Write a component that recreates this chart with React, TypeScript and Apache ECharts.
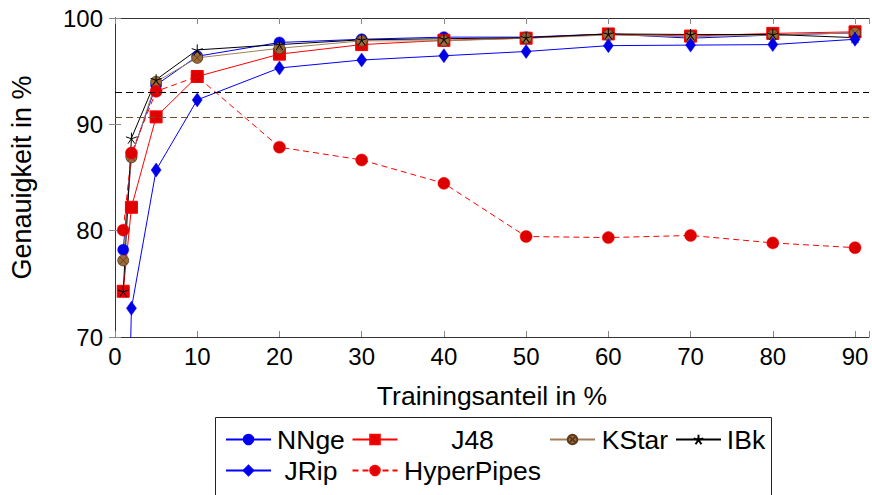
import React, { useEffect, useRef } from "react";
import * as echarts from "echarts";

// Training share in % (x positions)
const xValues = [1, 2, 5, 10, 20, 30, 40, 50, 60, 70, 80, 90];
// Accuracy in % per classifier
const nnge = [78.2, 87.0, 93.7, 96.4, 97.7, 98.0, 98.2, 98.2, 98.5, 98.1, 98.4, 98.6];
const j48 = [74.3, 82.2, 90.7, 94.5, 96.6, 97.5, 97.9, 98.1, 98.5, 98.3, 98.55, 98.7];
const kstar = [77.2, 86.9, 94.0, 96.25, 97.15, 97.85, 97.85, 98.1, 98.4, 98.25, 98.4, 98.6];
const ibk = [74.3, 88.7, 94.2, 97.0, 97.5, 97.95, 98.05, 98.15, 98.5, 98.45, 98.45, 98.15];
const jrip = [40, 72.7, 85.7, 92.3, 95.3, 96.05, 96.45, 96.85, 97.4, 97.45, 97.5, 98.0];
const hyperPipes = [80.05, 87.3, 93.1, 94.5, 87.85, 86.65, 84.45, 79.45, 79.35, 79.55, 78.85, 78.4];
// Reference (dashed) levels
const refBlack = 93.0;
const refBrown = 90.7;
// Axis ticks
const xTicks = [0, 10, 20, 30, 40, 50, 60, 70, 80, 90];
const yTicks = [70, 80, 90, 100];

const FONT = "Liberation Sans, Arial, Helvetica, sans-serif";

const pair = (ys: number[]) => xValues.map((x, i) => [x, ys[i]]);

const STAR =
  "path://M0,-10L0,0M0,0L9.51,-3.09M0,0L5.88,8.09M0,0L-5.88,8.09M0,0L-9.51,-3.09";
const OTIMES =
  "path://M10,0A10,10,0,1,1,-10,0A10,10,0,1,1,10,0ZM-7.07,-7.07L7.07,7.07M-7.07,7.07L7.07,-7.07";

export default function App() {
  const ref = useRef<HTMLDivElement>(null);
  useEffect(() => {
    const chart = echarts.init(ref.current!, null, { renderer: "svg" });

    const axisCommon = {
      axisLine: { show: true, lineStyle: { color: "#333", width: 1 } },
      axisTick: { show: true, inside: true, length: 6, lineStyle: { color: "#888", width: 1 } },
      splitLine: { show: false },
    };

    const legendItem = (name: string, left: number, top: number, w: number) => ({
      data: [name],
      left,
      top,
      padding: 0,
      itemWidth: 45,
      itemHeight: 12,
      selectedMode: false,
      formatter: (n: string) => `{t|${n}}`,
      textStyle: {
        rich: {
          t: { width: w, align: "center", fontSize: 26.5, lineHeight: 28, fontFamily: FONT, color: "#000" },
        },
      },
    });

    chart.setOption({
      animation: false,
      textStyle: { fontFamily: FONT },
      grid: { left: 115, right: 1, top: 18, bottom: 158, containLabel: false },
      xAxis: [
        {
          type: "value",
          min: 0,
          max: 91.7,
          interval: 10,
          position: "bottom",
          name: "Trainingsanteil in %",
          nameLocation: "middle",
          nameGap: 45,
          nameTextStyle: { fontSize: 26.5, color: "#000", fontFamily: FONT },
          axisLabel: {
            margin: 7,
            fontSize: 24,
            color: "#000",
            fontFamily: FONT,
            formatter: (v: number) => (xTicks.includes(v) ? String(v) : ""),
          },
          ...axisCommon,
        },
        {
          type: "value",
          min: 0,
          max: 91.7,
          interval: 10,
          position: "top",
          axisLabel: { show: false },
          ...axisCommon,
        },
      ],
      yAxis: [
        {
          type: "value",
          min: 70,
          max: 100,
          interval: 10,
          position: "left",
          name: "Genauigkeit in %",
          nameLocation: "middle",
          nameGap: 80,
          nameTextStyle: { fontSize: 27, color: "#000", fontFamily: FONT },
          axisLabel: {
            margin: 12,
            fontSize: 24,
            color: "#000",
            fontFamily: FONT,
            formatter: (v: number) => (yTicks.includes(v) ? String(v) : ""),
          },
          ...axisCommon,
        },
        {
          type: "value",
          min: 70,
          max: 100,
          interval: 10,
          position: "right",
          axisLabel: { show: false },
          ...axisCommon,
        },
      ],
      legend: [
        legendItem("NNge", 225, 426, 70),
        legendItem("J48", 351.5, 426, 140),
        legendItem("KStar", 549, 426, 70),
        legendItem("IBk", 675, 426, 40),
        legendItem("JRip", 225, 457, 70),
        legendItem("HyperPipes", 351.5, 457, 140),
      ],
      graphic: [
        {
          type: "rect",
          z: 0,
          shape: { x: 215.5, y: 417.5, width: 556, height: 100 },
          style: { fill: "#fff", stroke: "#222", lineWidth: 1 },
        },
      ],
      series: [
        {
          name: "refLines",
          type: "line",
          data: [],
          markLine: {
            silent: true,
            symbol: "none",
            label: { show: false },
            data: [
              { yAxis: refBlack, lineStyle: { color: "#000", type: [7, 4], width: 1 } },
              { yAxis: refBrown, lineStyle: { color: "#6e4f2e", type: [7, 4], width: 1 } },
            ],
          },
        },
        {
          name: "NNge",
          type: "line",
          data: pair(nnge),
          symbol: "circle",
          symbolSize: 11,
          lineStyle: { color: "#0000ff", width: 1 },
          itemStyle: { color: "#0000e6", borderColor: "#0000ff", borderWidth: 0.5 },
        },
        {
          name: "J48",
          type: "line",
          data: pair(j48),
          symbol: "rect",
          symbolSize: 12,
          lineStyle: { color: "#ff0000", width: 1 },
          itemStyle: { color: "#e00000", borderColor: "#ff0000", borderWidth: 1 },
        },
        {
          name: "KStar",
          type: "line",
          data: pair(kstar),
          symbol: OTIMES,
          symbolSize: 11,
          lineStyle: { color: "#a0805a", width: 1 },
          itemStyle: { color: "#9c6a3a", borderColor: "#5c3a1a", borderWidth: 0.8 },
        },
        {
          name: "IBk",
          type: "line",
          data: pair(ibk),
          symbol: STAR,
          symbolSize: 11,
          lineStyle: { color: "#000", width: 1 },
          itemStyle: { color: "#000", borderColor: "#000", borderWidth: 1 },
        },
        {
          name: "JRip",
          type: "line",
          data: pair(jrip),
          symbol: "diamond",
          symbolSize: [10, 14],
          lineStyle: { color: "#0000ff", width: 1 },
          itemStyle: { color: "#0000e6", borderColor: "#0000ff", borderWidth: 0.5 },
        },
        {
          name: "HyperPipes",
          type: "line",
          data: pair(hyperPipes),
          symbol: "circle",
          symbolSize: 12,
          lineStyle: { color: "#ff0000", width: 1, type: [6, 4] },
          itemStyle: { color: "#dd0000", borderColor: "#ff0000", borderWidth: 0.5 },
        },
      ],
    });
    return () => chart.dispose();
  }, []);
  return (
    <div
      ref={ref}
      style={{ position: "fixed", left: 0, top: 0, width: 872, height: 495, background: "#fff" }}
    />
  );
}
